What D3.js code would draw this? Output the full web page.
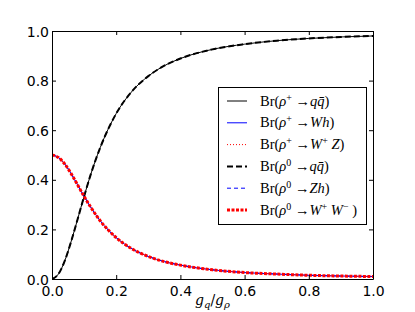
<!DOCTYPE html>
<html>
<head>
<meta charset="utf-8">
<script src="https://cdn.jsdelivr.net/npm/d3@7"></script>
<style>
  body { margin: 0; background: #fff; }
  .tick text { font-family: "DejaVu Sans", sans-serif; font-size: 14px; fill: #000; }
</style>
</head>
<body>
<script>
// g_q / g_rho sample points
var xs = [0, 0.02, 0.04, 0.06, 0.08, 0.1, 0.12, 0.15, 0.2, 0.25, 0.3, 0.35, 0.4, 0.5, 0.6, 0.7, 0.8, 0.9, 1.0];
// Br(rho -> q qbar)
var brQQ = [0, 0.02, 0.074, 0.153, 0.242, 0.333, 0.419, 0.529, 0.667, 0.758, 0.818, 0.86, 0.889, 0.926, 0.947, 0.961, 0.97, 0.976, 0.98];
// Br(rho -> W h), Br(rho -> W Z) etc (all on top of each other)
var brBoson = [0.5, 0.49, 0.463, 0.424, 0.379, 0.333, 0.291, 0.235, 0.167, 0.121, 0.091, 0.07, 0.056, 0.037, 0.026, 0.02, 0.015, 0.012, 0.01];
var xTicks = [0, 0.2, 0.4, 0.6, 0.8, 1.0];
var yTicks = [0, 0.2, 0.4, 0.6, 0.8, 1.0];

var series = [
  {name: "p_qq", values: brQQ, color: "#000", width: 1, dash: null, sup: "+", target: "qq"},
  {name: "p_wh", values: brBoson, color: "#0000ff", width: 1, dash: null, sup: "+", target: "Wh"},
  {name: "p_wz", values: brBoson, color: "#ff0000", width: 1, dash: "1,2", sup: "+", target: "WZ"},
  {name: "z_qq", values: brQQ, color: "#000", width: 2, dash: "6,3", sup: "0", target: "qq"},
  {name: "z_zh", values: brBoson, color: "#0000ff", width: 1, dash: "4,3", sup: "0", target: "Zh"},
  {name: "z_ww", values: brBoson, color: "#ff0000", width: 3, dash: "3,1.5", sup: "0", target: "WW"}
];

var width = 415, height = 312;
var margin = {top: 31, right: 42, bottom: 33, left: 52};

var svg = d3.select("body").append("svg")
    .attr("width", width)
    .attr("height", height);

var x = d3.scaleLinear().domain([0, 1]).range([margin.left, width - margin.right]);
var y = d3.scaleLinear().domain([0, 1]).range([height - margin.bottom, margin.top]);

var line = d3.line()
    .x(function(d, i) { return x(xs[i]); })
    .y(function(d) { return y(d); })
    .curve(d3.curveMonotoneX);

var plot = svg.append("g");
plot.append("clipPath").attr("id", "clip")
  .append("rect")
    .attr("x", x(0)).attr("y", y(1) - 2)
    .attr("width", x(1) - x(0)).attr("height", y(0) - y(1) + 2);

plot.selectAll("path.curve")
    .data(series)
  .enter().append("path")
    .attr("class", "curve")
    .attr("clip-path", "url(#clip)")
    .attr("d", function(d) { return line(d.values); })
    .attr("fill", "none")
    .attr("stroke", function(d) { return d.color; })
    .attr("stroke-width", function(d) { return d.width; })
    .attr("stroke-dasharray", function(d) { return d.dash; });

// axes, ticks inward on all four sides
var bottom = svg.append("g").attr("transform", "translate(0," + y(0) + ")")
    .call(d3.axisBottom(x).tickValues(xTicks).tickSizeInner(-4).tickSizeOuter(0).tickPadding(7).tickFormat(d3.format(".1f")));
var left = svg.append("g").attr("transform", "translate(" + x(0) + ",0)")
    .call(d3.axisLeft(y).tickValues(yTicks).tickSizeInner(-4).tickSizeOuter(0).tickPadding(3).tickFormat(d3.format(".1f")));
var top = svg.append("g").attr("transform", "translate(0," + y(1) + ")")
    .call(d3.axisTop(x).tickValues(xTicks).tickSizeInner(-4).tickSizeOuter(0).tickFormat(""));
var right = svg.append("g").attr("transform", "translate(" + x(1) + ",0)")
    .call(d3.axisRight(y).tickValues(yTicks).tickSizeInner(-4).tickSizeOuter(0).tickFormat(""));
svg.selectAll(".domain").attr("stroke", "#000");
svg.selectAll(".tick line").attr("stroke", "#000");
left.selectAll(".tick text").attr("dy", "0.36em");

svg.append("text")
    .attr("x", (x(0) + x(1)) / 2)
    .attr("y", 305)
    .attr("text-anchor", "middle")
    .style("font-family", "'DejaVu Serif', serif")
    .style("font-style", "italic")
    .style("font-size", "14px")
    .call(function(t) {
      t.append("tspan").text("g");
      t.append("tspan").attr("dy", 3).style("font-size", "10px").text("q");
      t.append("tspan").attr("dy", -3).style("font-style", "normal").text("/");
      t.append("tspan").text("g");
      t.append("tspan").attr("dy", 3).style("font-size", "10px").text("ρ");
    });

// legend
var lg = svg.append("g");
lg.append("rect")
    .attr("x", 218.5).attr("y", 87.5)
    .attr("width", 148).attr("height", 137)
    .attr("fill", "#fff").attr("stroke", "#000").attr("stroke-width", 1);

var rowH = 21.8;
var items = lg.selectAll("g.item")
    .data(series)
  .enter().append("g")
    .attr("class", "item")
    .attr("transform", function(d, i) { return "translate(0," + (101 + i * rowH) + ")"; });

items.append("line")
    .attr("x1", 227).attr("x2", 247)
    .attr("stroke", function(d) { return d.color; })
    .attr("stroke-width", function(d) { return d.width; })
    .attr("stroke-dasharray", function(d) { return d.dash; });

items.append("text")
    .attr("x", 260).attr("y", 4.5)
    .style("font-family", "'Liberation Serif', serif")
    .style("font-size", "14.5px")
    .each(function(d) {
      var t = d3.select(this);
      t.append("tspan").text("Br(");
      t.append("tspan").style("font-style", "italic").text("ρ");
      t.append("tspan").attr("dy", -5).style("font-size", "10px").text(d.sup);
      t.append("tspan").attr("dy", 5).text(" →");
      if (d.target == "qq") {
        t.append("tspan").style("font-style", "italic").text("q\u0071\u0304");
      } else if (d.target == "Wh") {
        t.append("tspan").style("font-style", "italic").text("Wh");
      } else if (d.target == "Zh") {
        t.append("tspan").style("font-style", "italic").text("Zh");
      } else if (d.target == "WZ") {
        t.append("tspan").style("font-style", "italic").text("W");
        t.append("tspan").attr("dy", -5).style("font-size", "10px").text("+");
        t.append("tspan").attr("dy", 5).style("font-style", "italic").text(" Z");
      } else {
        t.append("tspan").style("font-style", "italic").text("W");
        t.append("tspan").attr("dy", -5).style("font-size", "10px").text("+");
        t.append("tspan").attr("dy", 5).style("font-style", "italic").text(" W");
        t.append("tspan").attr("dy", -5).style("font-size", "10px").text("−");
        t.append("tspan").attr("dy", 5).text("  ");
      }
      t.append("tspan").text(")");
    });
</script>
</body>
</html>
